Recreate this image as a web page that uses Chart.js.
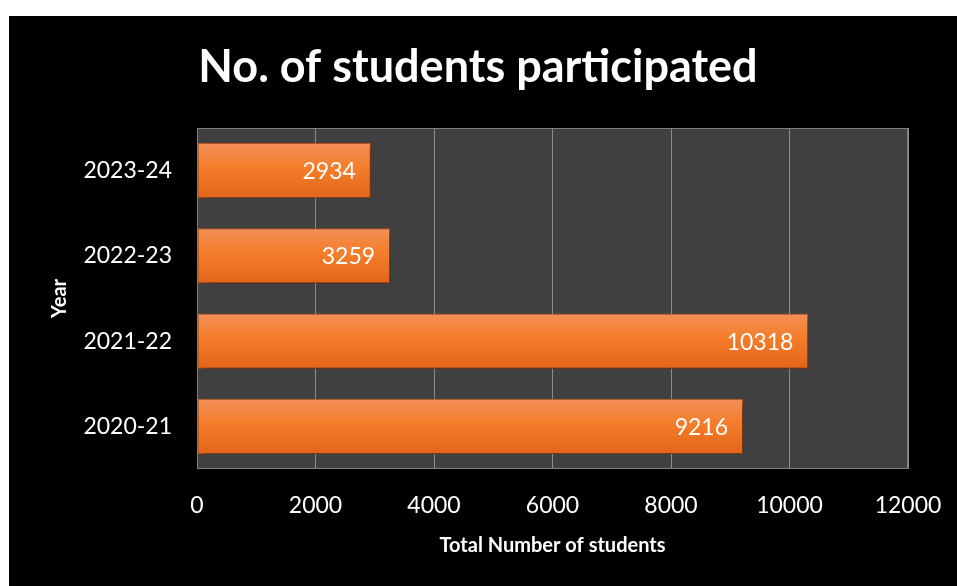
<!DOCTYPE html>
<html>
<head>
<meta charset="utf-8">
<script src="https://cdn.jsdelivr.net/npm/chart.js@4.4.1/dist/chart.umd.min.js"></script>
<style>
  html, body { margin: 0; padding: 0; background: #fff; }
  #wrap { position: absolute; left: 9px; top: 16px; width: 948px; height: 570px; background: #000; }
</style>
</head>
<body>
<div id="wrap"><canvas id="chart" width="948" height="570"></canvas></div>
<script>
// --- data ---
const years = ['2023-24', '2022-23', '2021-22', '2020-21'];
const students = [2934, 3259, 10318, 9216];
const xTicks = [0, 2000, 4000, 6000, 8000, 10000, 12000];

const FONT = "Lato, 'Open Sans', sans-serif";
const BAR_PCT = 0.65;

// plot background + border
const plotBg = {
  id: 'plotBg',
  beforeDraw(chart) {
    const { ctx, chartArea: a } = chart;
    ctx.save();
    ctx.fillStyle = '#404040';
    ctx.fillRect(a.left, a.top, a.width, a.height);
    ctx.restore();
  },
  afterDraw(chart) {
    const { ctx, chartArea: a } = chart;
    ctx.save();
    ctx.strokeStyle = '#7f7f7f';
    ctx.lineWidth = 1;
    ctx.strokeRect(a.left + 0.5, a.top + 0.5, a.width - 1, a.height - 1);
    ctx.restore();
  }
};

// soft shadow under bars
const barShadow = {
  id: 'barShadow',
  beforeDatasetDraw(chart) {
    const ctx = chart.ctx;
    ctx.save();
    ctx.shadowColor = 'rgba(0,0,0,0.55)';
    ctx.shadowBlur = 7;
    ctx.shadowOffsetX = 3;
    ctx.shadowOffsetY = 3;
  },
  afterDatasetDraw(chart) {
    chart.ctx.restore();
  }
};

// value labels inside the bar end
const valueLabels = {
  id: 'valueLabels',
  afterDatasetsDraw(chart) {
    const ctx = chart.ctx;
    const meta = chart.getDatasetMeta(0);
    ctx.save();
    ctx.fillStyle = '#ffffff';
    ctx.font = '23px ' + FONT;
    ctx.textAlign = 'right';
    ctx.textBaseline = 'middle';
    meta.data.forEach((bar, i) => {
      ctx.fillText(String(students[i]), bar.x - 15, bar.y + 1);
    });
    ctx.restore();
  }
};

function barGradient(c) {
  const chart = c.chart;
  const y = chart.scales.y;
  if (!y || !chart.chartArea) return '#f57d2a';
  const center = y.getPixelForValue(c.dataIndex);
  const band = (y.bottom - y.top) / years.length;
  const h = band * BAR_PCT;
  const g = chart.ctx.createLinearGradient(0, center - h / 2, 0, center + h / 2);
  g.addColorStop(0, '#f28f58');
  g.addColorStop(0.45, '#f57d2a');
  g.addColorStop(1, '#e2651a');
  return g;
}

new Chart(document.getElementById('chart'), {
  type: 'bar',
  data: {
    labels: years,
    datasets: [{
      data: students,
      backgroundColor: barGradient,
      borderColor: '#c65a1c',
      borderWidth: 1,
      borderSkipped: false,
      barPercentage: BAR_PCT,
      categoryPercentage: 1
    }]
  },
  options: {
    indexAxis: 'y',
    responsive: false,
    animation: false,
    layout: { padding: { left: 39, right: 49, top: 0, bottom: 0 } },
    plugins: {
      legend: { display: false },
      tooltip: { enabled: false },
      title: {
        display: true,
        text: 'No. of students participated',
        color: '#ffffff',
        font: { family: FONT, size: 45, weight: 'bold' },
        padding: { top: 24, bottom: 34 }
      }
    },
    scales: {
      x: {
        min: 0,
        max: 12000,
        afterBuildTicks(scale) { scale.ticks = xTicks.map(v => ({ value: v })); },
        afterFit(scale) {
          scale.height = 117;
          scale.paddingLeft = 0;
          scale.paddingRight = 0;
        },
        ticks: {
          color: '#ffffff',
          font: { family: FONT, size: 23 },
          padding: 23,
          callback: v => String(v)
        },
        grid: { color: '#8c8c8c', lineWidth: 1, drawTicks: false },
        border: { display: false },
        title: {
          display: true,
          text: 'Total Number of students',
          color: '#ffffff',
          font: { family: FONT, size: 20, weight: 'bold' },
          padding: { top: 0, bottom: 28 }
        }
      },
      y: {
        afterFit(scale) { scale.width = 149; },
        ticks: { color: '#ffffff', font: { family: FONT, size: 23 }, padding: 25 },
        grid: { display: false, drawTicks: false },
        border: { display: false },
        title: {
          display: true,
          text: 'Year',
          color: '#ffffff',
          font: { family: FONT, size: 20, weight: 'bold' },
          padding: { top: 0, bottom: 0 }
        }
      }
    }
  },
  plugins: [plotBg, barShadow, valueLabels]
});
</script>
</body>
</html>
